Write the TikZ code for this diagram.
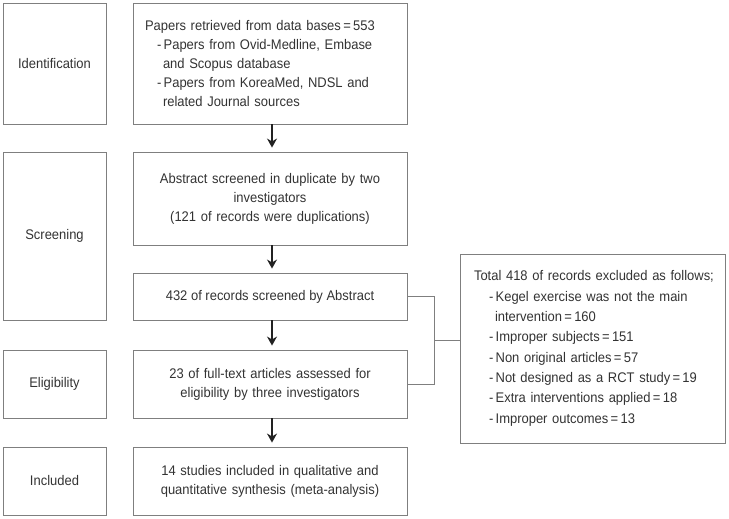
\documentclass[tikz,border=0pt]{standalone}
\usepackage{fontspec}
\setmainfont[FakeStretch=0.93]{Liberation Sans}
\usetikzlibrary{arrows.meta,calc}
\definecolor{boxc}{HTML}{7F7F7F}
\definecolor{txtc}{HTML}{333333}
\definecolor{arrc}{HTML}{222222}
\begin{document}
\begin{tikzpicture}[x=1bp,y=-1bp,
  box/.style={draw=boxc, line width=0.9bp, text=txtc, inner sep=0pt,
    font=\fontsize{14}{19}\selectfont},
  arr/.style={draw=arrc, line width=1.3bp, -{Stealth[length=9bp,width=10bp]}, shorten >=4bp},
  brk/.style={draw=boxc, line width=0.9bp}]
\useasboundingbox (0,0) rectangle (729,519);
% stage labels
\node[box, minimum width=103bp, minimum height=121bp] (idl) at (54.5,63.5) {Identification};
\node[box, minimum width=103bp, minimum height=168bp] (scl) at (54.5,236) {Screening};
\node[box, minimum width=103bp, minimum height=68bp] (ell) at (54.5,384) {Eligibility};
\node[box, minimum width=103bp, minimum height=68bp] (inl) at (54.5,481) {Included};
% main boxes
\node[box, minimum width=274bp, minimum height=121bp, text width=250bp, align=left] (idm) at (270,63.5)
 {\mbox{Papers retrieved from data bases\,=\,553}\\
  \mbox{\hspace*{12bp}-\,Papers from Ovid-Medline, Embase}\\
  \mbox{\hspace*{18bp}and Scopus database}\\
  \mbox{\hspace*{12bp}-\,Papers from KoreaMed, NDSL and}\\
  \mbox{\hspace*{18bp}related Journal sources}};
\node[box, minimum width=274bp, minimum height=93bp, text width=266bp, align=center] (abs) at (270,198.5)
 {\mbox{Abstract screened in duplicate by two}\\investigators\\\mbox{(121 of records were duplications)}};
\node[box, minimum width=274bp, minimum height=47bp] (rec) at (270,296.5)
 {432 of records screened by Abstract};
\node[box, minimum width=274bp, minimum height=68bp, text width=266bp, align=center] (eli) at (270,384)
 {\mbox{23 of full-text articles assessed for}\\\mbox{eligibility by three investigators}};
\node[box, minimum width=274bp, minimum height=68bp, text width=266bp, align=center] (inc) at (270,481)
 {\mbox{14 studies included in qualitative and}\\\mbox{quantitative synthesis (meta-analysis)}};
% exclusion box
\node[box, font=\fontsize{14}{20.4}\selectfont, minimum width=265bp, minimum height=189bp, text width=237bp, align=left] (exc) at (592.5,348.5)
 {\mbox{Total 418 of records excluded as follows;}\\
  \mbox{\hspace*{15bp}-\,Kegel exercise was not the main}\\
  \mbox{\hspace*{21bp}intervention\,=\,160}\\
  \mbox{\hspace*{15bp}-\,Improper subjects\,=\,151}\\
  \mbox{\hspace*{15bp}-\,Non original articles\,=\,57}\\
  \mbox{\hspace*{15bp}-\,Not designed as a RCT study\,=\,19}\\
  \mbox{\hspace*{15bp}-\,Extra interventions applied\,=\,18}\\
  \mbox{\hspace*{15bp}-\,Improper outcomes\,=\,13}};
% arrows
\draw[arr] ($(idm.south)+(2,0)$) -- ($(abs.north)+(2,0)$);
\draw[arr] ($(abs.south)+(2,0)$) -- ($(rec.north)+(2,0)$);
\draw[arr] ($(rec.south)+(2,0)$) -- ($(eli.north)+(2,0)$);
\draw[arr] ($(eli.south)+(2,0)$) -- ($(inc.north)+(2,0)$);
% bracket
\coordinate (bx) at (434,0);
\draw[brk] (rec.east) -- (rec.east -| bx) -- (eli.east -| bx) -- (eli.east);
\coordinate (bm) at ($(rec.east -| bx)!0.5!(eli.east -| bx)$);
\draw[brk] (bm) -- (bm -| exc.west);
\end{tikzpicture}
\end{document}
